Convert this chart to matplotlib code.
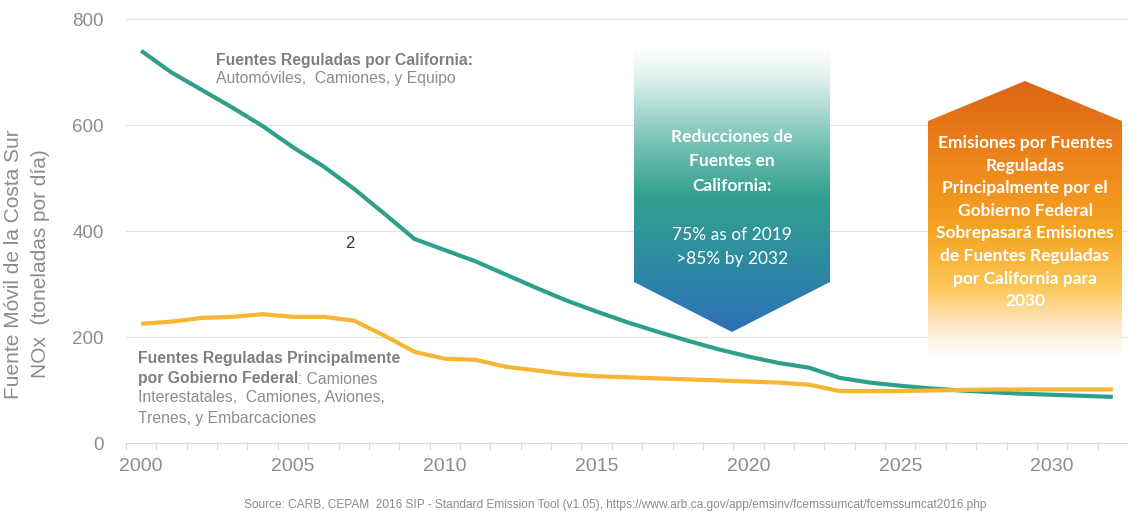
import numpy as np
import matplotlib
matplotlib.use("Agg")
import matplotlib.pyplot as plt
from matplotlib.patches import Polygon
from matplotlib.colors import LinearSegmentedColormap

plt.rcParams['font.family'] = ['Liberation Sans', 'DejaVu Sans']

# data (toneladas por dia, NOx)
years = list(range(2000, 2033))
california = [740, 699, 666, 633, 598, 558, 522, 480, 433, 385,
              364, 343, 318, 293, 269, 248, 228, 210, 193, 177,
              163, 151, 142, 123, 114, 108, 103, 99, 96, 93,
              91, 89, 87]
federal = [225, 229, 236, 238, 243, 238, 238, 231, 203, 172,
           159, 157, 144, 137, 130, 126, 124, 122, 120, 118,
           116, 114, 110, 98, 98, 98, 99, 100, 101, 101,
           101, 101, 101]
xticks = [2000, 2005, 2010, 2015, 2020, 2025, 2030]
yticks = [0, 200, 400, 600, 800]

green = '#2FA088'
gold = '#F7B533'
grey = '#8C8C8C'
grid = '#D9D9D9'

W, H = 1128, 511
fig = plt.figure(figsize=(W / 100, H / 100), dpi=100)
ax = fig.add_axes([126 / W, 68 / H, (W - 126) / W, 424 / H])

ax.plot(years, california, color=green, lw=3.0, solid_capstyle='butt', zorder=3)
ax.plot(years, federal, color=gold, lw=3.0, solid_capstyle='butt', zorder=4)

ax.set_xlim(1999.5, 1999.5 + (W - 126) / 30.75)
ax.set_ylim(0, 800)
ax.set_xticks(xticks)
ax.set_xticks(np.arange(1999.5, 2033, 1), minor=True)
ax.set_yticks(yticks)
ax.tick_params(axis='x', which='major', length=0, pad=11, labelsize=14, labelcolor=grey)
ax.tick_params(axis='x', which='minor', length=5, width=0.8, color=grid)
ax.tick_params(axis='y', length=0, pad=16, labelsize=13.5, labelcolor=grey)
for s in ['top', 'right', 'left']:
    ax.spines[s].set_visible(False)
ax.spines['bottom'].set_color(grid)
ax.yaxis.grid(True, color='#E3E3E3', lw=0.9)
ax.set_axisbelow(True)
for gl in ax.get_ygridlines():
    gl.set_clip_on(False)

# overlay in pixel coords for arrows and notes
ov = fig.add_axes([0, 0, 1, 1], zorder=5)
ov.set_xlim(0, W)
ov.set_ylim(H, 0)
ov.axis('off')
ov.patch.set_visible(False)


def grad_shape(pts, top, bottom, colors):
    cmap = LinearSegmentedColormap.from_list('g', colors)
    g = np.linspace(0, 1, 256).reshape(-1, 1)
    xs = [p[0] for p in pts]
    im = ov.imshow(g, cmap=cmap, aspect='auto', origin='upper',
                   extent=(min(xs), max(xs), bottom, top), interpolation='bilinear')
    poly = Polygon(pts, closed=True, transform=ov.transData, fc='none', ec='none')
    ov.add_patch(poly)
    im.set_clip_path(poly)


# teal down arrow
grad_shape([(634, 48), (830, 48), (830, 282), (732, 332), (634, 282)], 48, 332,
           [(0.0, '#FFFFFF'), (0.12, '#D8EEEA'), (0.32, '#7CC5B7'),
            (0.52, '#33A08F'), (0.72, '#2E8F9E'), (1.0, '#2D70B8')])
# orange up arrow
grad_shape([(1025, 81), (1122, 121), (1122, 356), (928, 356), (928, 121)], 81, 356,
           [(0.0, '#DD6414'), (0.3, '#EE861C'), (0.55, '#F6A523'),
            (0.75, '#FCC75A'), (0.9, '#FEEACB'), (1.0, '#FFFFFF')])
ov.set_xlim(0, W)
ov.set_ylim(H, 0)

afont = dict(family=['Lato', 'DejaVu Sans'], color='white', ha='center', va='center', fontsize=12.5)
teal_lines = [('Reducciones de', 137, 'bold'), ('Fuentes en', 161, 'bold'),
              ('California:', 186, 'bold'), ('75% as of 2019', 235, 'normal'),
              ('>85% by 2032', 259, 'normal')]
for txt, y, wgt in teal_lines:
    ov.text(732, y, txt, fontweight=wgt, **afont)

orange_lines = ['Emisiones por Fuentes', 'Reguladas', 'Principalmente por el',
                'Gobierno Federal', 'Sobrepasará Emisiones', 'de Fuentes Reguladas',
                'por California para', '2030']
for i, txt in enumerate(orange_lines):
    ov.text(1025, 143 + i * 22.6, txt, fontweight='bold', **afont)

# series notes
fs = 11.3
ov.text(216, 60, 'Fuentes Reguladas por California:', color='#7F7F7F',
        fontsize=fs, fontweight='bold', va='center')
ov.text(216, 79, 'Automóviles,  Camiones, y Equipo', color=grey, fontsize=fs, va='center')

t1 = ov.text(138, 359, 'Fuentes Reguladas Principalmente', color='#7F7F7F',
             fontsize=fs, fontweight='bold', va='center')
t2 = ov.text(138, 379, 'por Gobierno Federal', color='#7F7F7F',
             fontsize=fs, fontweight='bold', va='center')
ov.annotate(': Camiones', xy=(1, 0.5), xycoords=t2, va='center', color=grey, fontsize=fs)
ov.text(138, 398, 'Interestatales,  Camiones, Aviones,', color=grey, fontsize=fs, va='center')
ov.text(138, 418, 'Trenes, y Embarcaciones', color=grey, fontsize=fs, va='center')

ov.text(350, 243, '2', color='#333333', fontsize=12, ha='center', va='center')

# axis title
fig.text(14 / W, 1 - 264 / H, 'Fuente Móvil de la Costa Sur', rotation=90,
         color=grey, fontsize=15, ha='center', va='center')
fig.text(41 / W, 1 - 264 / H, 'NOx  (toneladas por día)', rotation=90,
         color=grey, fontsize=15, ha='center', va='center')

fig.text(615 / W, 1 - 505 / H,
         'Source: CARB, CEPAM  2016 SIP - Standard Emission Tool (v1.05), '
         'https://www.arb.ca.gov/app/emsinv/fcemssumcat/fcemssumcat2016.php',
         color=grey, fontsize=8.6, ha='center', va='center')

fig.savefig('out.png', dpi=100)
